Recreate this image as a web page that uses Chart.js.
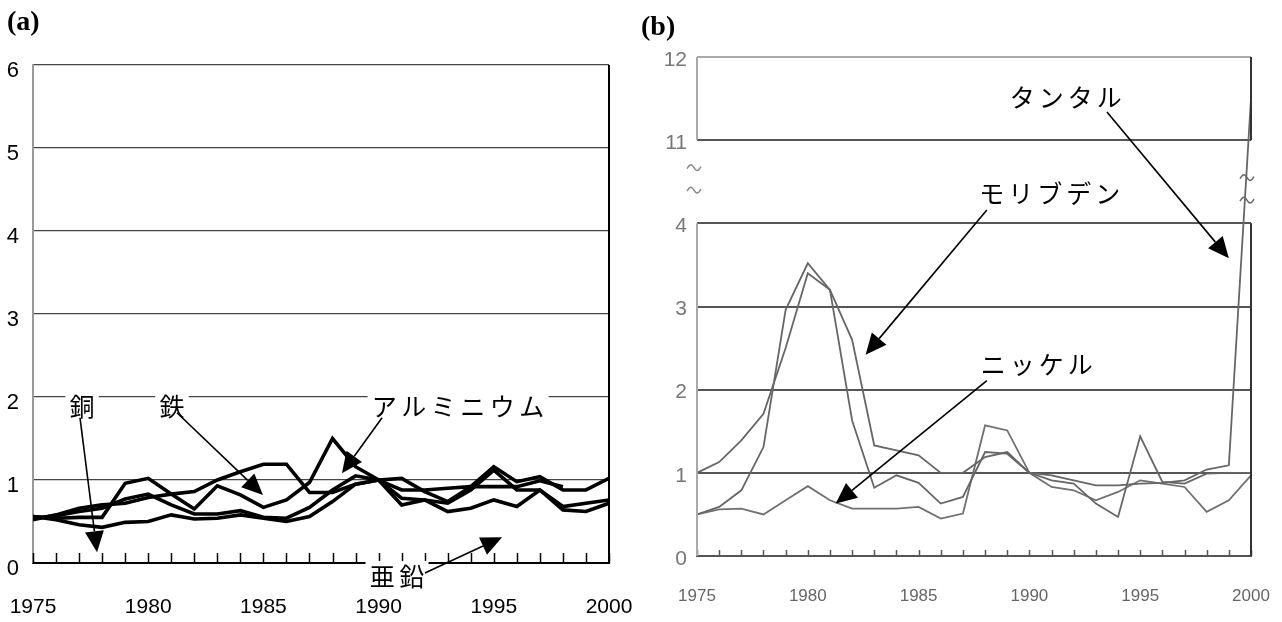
<!DOCTYPE html>
<html><head><meta charset="utf-8">
<script src="https://cdn.jsdelivr.net/npm/chart.js@4.4.1/dist/chart.umd.min.js"></script>
<style>
html,body{margin:0;padding:0;background:#fff;width:1282px;height:622px;overflow:hidden}
.panel{position:absolute;top:0}
#wa{left:0}
#wb{left:640px}
.tag{position:absolute;font-family:"Liberation Serif","Times New Roman",serif;font-weight:bold;font-size:28px;line-height:28px;color:#000}
</style></head><body>
<div class="panel" id="wa"><canvas id="ca" width="640" height="622"></canvas></div>
<div class="panel" id="wb"><canvas id="cb" width="642" height="622"></canvas></div>
<div class="tag" style="left:7px;top:7px">(a)</div>
<div class="tag" style="left:641px;top:12px">(b)</div>
<script>
// ---------- data ----------
const years = [1975,1976,1977,1978,1979,1980,1981,1982,1983,1984,1985,1986,1987,1988,1989,1990,1991,1992,1993,1994,1995,1996,1997,1998,1999,2000];
const yearTickLabels = [1975,1980,1985,1990,1995,2000];

// panel (a): price index, 1990 = 1
const aluminium = [0.56,0.54,0.55,0.55,0.96,1.02,0.83,0.65,0.93,0.82,0.67,0.76,0.97,1.50,1.16,1.00,0.70,0.76,0.62,0.66,0.76,0.68,0.88,0.64,0.62,0.72];
const iron      = [0.52,0.58,0.66,0.70,0.72,0.79,0.83,0.86,1.00,1.10,1.19,1.19,0.85,0.85,0.95,1.00,1.02,0.86,0.74,0.92,1.16,0.98,1.04,0.88,0.88,1.02];
const copper    = [0.54,0.57,0.62,0.66,0.77,0.83,0.70,0.59,0.59,0.63,0.55,0.54,0.67,0.88,1.05,1.00,0.78,0.76,0.72,0.88,1.12,0.88,0.88,0.68,0.72,0.76];
const zinc      = [0.56,0.52,0.46,0.43,0.49,0.50,0.58,0.53,0.54,0.58,0.54,0.50,0.56,0.74,0.95,1.00,0.88,0.88,0.90,0.92,0.92,0.92,0.99,0.92,null,null];
const yTicksA = [0,1,2,3,4,5,6];

// panel (b)
const molybdenum = [1.00,1.13,1.39,1.71,2.50,3.40,3.20,2.60,1.33,1.27,1.21,1.00,1.00,1.19,1.25,1.00,0.91,0.87,0.63,0.47,1.44,0.89,0.87,0.99,1.00,1.00];
const tantalum   = [0.50,0.59,0.79,1.31,2.96,3.52,3.20,1.63,0.82,0.97,0.88,0.63,0.71,1.25,1.23,1.00,0.97,0.91,0.85,0.85,0.87,0.88,0.91,1.04,1.09,11.5];
const nickel     = [0.50,0.56,0.57,0.50,0.67,0.84,0.67,0.57,0.57,0.57,0.59,0.45,0.51,1.57,1.51,1.00,0.83,0.79,0.67,0.77,0.91,0.87,0.83,0.53,0.67,0.97];
const yTicksB = [0,1,2,3,4,11,12];

// annotation placement (data coordinates)
const notesA = [
  {text:'銅',           at:[1977.13,1.90],  from:[1977.04,1.75], to:[1977.78,0.13]},
  {text:'鉄',           at:[1981.03,1.90],  from:[1981.25,1.81], to:[1984.98,0.82]},
  {text:'アルミニウム', at:[1993.45,1.90],  from:[1990.15,1.75], to:[1988.41,1.08]},
  {text:'亜鉛',         at:[1990.80,-0.15], from:[1992.01,-0.12], to:[1995.36,0.31]}
];
const notesB = [
  {text:'タンタル',   at:[1991.64,5.52], from:[1993.50,5.34], to:[1999.00,3.58]},
  {text:'モリブデン', at:[1990.92,4.37], from:[1988.08,4.16], to:[1982.61,2.42]},
  {text:'ニッケル',   at:[1990.33,2.32], from:[1988.08,2.11], to:[1981.26,0.63]}
];

// ---------- helpers ----------
const SANS = '"Liberation Sans",Arial,sans-serif';
const JP = '"Noto Sans CJK JP",sans-serif';

function pts(vals, map){ return years.map((y,i)=>({x:y, y: vals[i]==null?null:(map?map(vals[i]):vals[i])})); }

// broken axis of panel (b): 0..4 as is, 11..12 drawn at 5..6, gap 4..11 squeezed into 4..5
function brk(v){ return v<=4 ? v : (v>=11 ? v-6 : 4+(v-4)/7); }
function unbrk(d){ return d<=4 ? d : d+6; }

function arrow(ctx,x1,y1,x2,y2,len,half){
  const a=Math.atan2(y2-y1,x2-x1);
  const bx=x2-len*Math.cos(a), by=y2-len*Math.sin(a);
  ctx.beginPath(); ctx.moveTo(x1,y1); ctx.lineTo(bx,by); ctx.stroke();
  ctx.beginPath(); ctx.moveTo(x2,y2);
  ctx.lineTo(bx+half*Math.sin(a), by-half*Math.cos(a));
  ctx.lineTo(bx-half*Math.sin(a), by+half*Math.cos(a));
  ctx.closePath(); ctx.fill();
}
function drawNotes(chart, notes, fontSize, spacing){
  const ctx=chart.ctx, xs=chart.scales.x, ys=chart.scales.y;
  ctx.save();
  ctx.font = fontSize+'px '+JP;
  ctx.letterSpacing = spacing+'px';
  ctx.textAlign='center'; ctx.textBaseline='middle';
  notes.forEach(n=>{
    const tx=xs.getPixelForValue(n.at[0]), ty=ys.getPixelForValue(n.at[1]);
    const w=ctx.measureText(n.text).width;
    ctx.fillStyle='#fff';
    ctx.fillRect(tx-w/2-2, ty-fontSize/2-2, w+4, fontSize+4);
  });
  notes.forEach(n=>{
    ctx.fillStyle='#000'; ctx.strokeStyle='#000'; ctx.lineWidth=1.6;
    arrow(ctx, xs.getPixelForValue(n.from[0]), ys.getPixelForValue(n.from[1]),
               xs.getPixelForValue(n.to[0]), ys.getPixelForValue(n.to[1]), 21, 9.5);
  });
  notes.forEach(n=>{
    const tx=xs.getPixelForValue(n.at[0]), ty=ys.getPixelForValue(n.at[1]);
    ctx.fillStyle='#000';
    ctx.fillText(n.text, tx+spacing/2, ty+1);
  });
  ctx.restore();
}
function innerTicks(chart, len, color, width){
  const ctx=chart.ctx, xs=chart.scales.x, b=chart.chartArea.bottom;
  ctx.save(); ctx.strokeStyle=color; ctx.lineWidth=width;
  years.forEach(y=>{
    const x=Math.round(xs.getPixelForValue(y))+0.5;
    ctx.beginPath(); ctx.moveTo(x,b); ctx.lineTo(x,b-len); ctx.stroke();
  });
  ctx.restore();
}
function squiggle(ctx,x,y,w,color){
  ctx.save(); ctx.strokeStyle=color; ctx.lineWidth=1.5;
  ctx.beginPath(); ctx.moveTo(x-w/2,y+1);
  ctx.bezierCurveTo(x-w/4,y-5, x-w/8,y-3, x,y);
  ctx.bezierCurveTo(x+w/8,y+3, x+w/4,y+5, x+w/2,y-1);
  ctx.stroke(); ctx.restore();
}
function lineDS(vals, color, width, map){
  return {data: pts(vals,map), borderColor:color, backgroundColor:color, borderWidth:width,
          pointRadius:0, tension:0, spanGaps:false, borderJoinStyle:'miter', borderCapStyle:'butt', fill:false};
}
function noPad(s){ s.paddingLeft=0; s.paddingRight=0; s.paddingTop=0; s.paddingBottom=0; }

// ---------- panel (a) ----------
const plugA = {
  id:'decoA',
  afterDatasetsDraw(chart){
    const ctx=chart.ctx, a=chart.chartArea;
    innerTicks(chart, 10, '#000', 1.5);
    ctx.save(); ctx.strokeStyle='#000'; ctx.lineWidth=2;
    ctx.beginPath(); ctx.moveTo(a.right, a.top); ctx.lineTo(a.right, a.bottom); ctx.stroke();
    ctx.restore();
  },
  afterDraw(chart){ drawNotes(chart, notesA, 25, 4.5); }
};
new Chart(document.getElementById('ca'), {
  type:'line',
  data:{datasets:[lineDS(copper,'#000',3.6), lineDS(iron,'#000',3.6), lineDS(aluminium,'#000',3.6), lineDS(zinc,'#000',3.6)]},
  options:{
    responsive:false, animation:false, devicePixelRatio:1,
    layout:{padding:{left:0,right:31,top:65,bottom:0}},
    plugins:{legend:{display:false}, tooltip:{enabled:false}},
    scales:{
      x:{type:'linear', min:1975, max:2000,
         grid:{display:false, drawTicks:false},
         border:{display:true, color:'#000', width:2},
         ticks:{stepSize:5, autoSkip:false, maxRotation:0, padding:32, color:'#000',
                font:{family:SANS, size:21},
                callback:v=>yearTickLabels.includes(v)?String(v):''},
         afterFit(s){ s.height=59; noPad(s); }},
      y:{min:0, max:6,
         afterBuildTicks(s){ s.ticks = yTicksA.map(v=>({value:v})); },
         grid:{color:'#444', lineWidth:1.2, drawTicks:false},
         border:{display:true, color:'#999', width:2},
         ticks:{padding:14, labelOffset:6, color:'#000', font:{family:SANS, size:22}},
         afterFit(s){ s.width=33; noPad(s); }}
    }
  },
  plugins:[plugA]
});

// ---------- panel (b) ----------
const plugB = {
  id:'decoB',
  afterDatasetsDraw(chart){
    const ctx=chart.ctx, a=chart.chartArea, ys=chart.scales.y;
    const y4=ys.getPixelForValue(4), y5=ys.getPixelForValue(5);
    innerTicks(chart, 6, '#555', 1.5);
    ctx.save();
    ctx.lineWidth=2;
    ctx.strokeStyle='#aaa';
    ctx.beginPath(); ctx.moveTo(a.left, a.bottom); ctx.lineTo(a.left, y4);
    ctx.moveTo(a.left, y5); ctx.lineTo(a.left, a.top); ctx.stroke();
    ctx.strokeStyle='#333';
    ctx.beginPath(); ctx.moveTo(a.right, a.bottom); ctx.lineTo(a.right, y4);
    ctx.moveTo(a.right, y5); ctx.lineTo(a.right, a.top); ctx.stroke();
    ctx.restore();
    squiggle(ctx, a.left-3, ys.getPixelForValue(4.67), 14, '#888');
    squiggle(ctx, a.left-3, ys.getPixelForValue(4.40), 14, '#888');
    squiggle(ctx, a.right-4, ys.getPixelForValue(4.55), 14, '#666');
    squiggle(ctx, a.right-4, ys.getPixelForValue(4.28), 14, '#666');
  },
  afterDraw(chart){ drawNotes(chart, notesB, 25, 4); }
};
new Chart(document.getElementById('cb'), {
  type:'line',
  data:{datasets:[lineDS(molybdenum,'#666',1.8,brk), lineDS(tantalum,'#666',1.8,brk), lineDS(nickel,'#707070',1.8,brk)]},
  options:{
    responsive:false, animation:false, devicePixelRatio:1,
    layout:{padding:{left:0,right:31,top:57,bottom:0}},
    plugins:{legend:{display:false}, tooltip:{enabled:false}},
    scales:{
      x:{type:'linear', min:1975, max:2000,
         grid:{display:false, drawTicks:false},
         border:{display:true, color:'#555', width:2},
         ticks:{stepSize:5, autoSkip:false, maxRotation:0, padding:30, color:'#666',
                font:{family:SANS, size:17},
                callback:v=>yearTickLabels.includes(v)?String(v):''},
         afterFit(s){ s.height=66; noPad(s); }},
      y:{min:0, max:6,
         afterBuildTicks(s){ s.ticks = yTicksB.map(v=>({value:brk(v)})); },
         grid:{color:c=>c.tick && c.tick.value===6 ? '#aaa' : '#555', lineWidth:2, drawTicks:false},
         border:{display:false},
         ticks:{padding:10, labelOffset:3, color:'#777', font:{family:SANS, size:21},
                callback:v=>String(unbrk(v))},
         afterFit(s){ s.width=57; noPad(s); }}
    }
  },
  plugins:[plugB]
});
</script>
</body></html>
